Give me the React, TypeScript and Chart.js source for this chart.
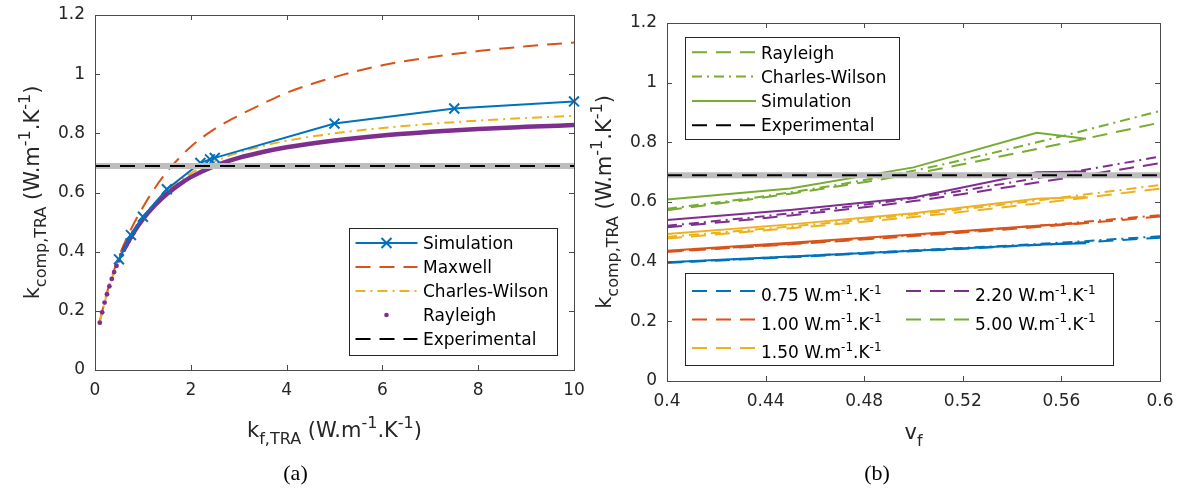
import React, { useEffect, useRef } from 'react';
import { Chart, registerables } from 'chart.js';
Chart.register(...registerables);

const BLUE = '#0072BD';
const ORANGE = '#D95319';
const YELLOW = '#EDB120';
const PURPLE = '#7E2F8E';
const GREEN = '#77AC30';
const GRAY = '#BEBEBE';
const BLACK = '#000000';
const TEXT = '#262626';
const AXIS = '#4a4a4a';
const SANS = '"DejaVu Sans", "Liberation Sans", sans-serif';
const SERIF = '"Liberation Serif", "DejaVu Serif", serif';

const DASH = [15, 9];
const DASHDOT = [10, 5, 2, 5];
const EXPDASH = [15, 10];

// ---------- (a) data: k_comp vs k_f ----------
const xTicksA = [0, 2, 4, 6, 8, 10];
const yTicks = [0, 0.2, 0.4, 0.6, 0.8, 1, 1.2];
const kfSim = [0.5, 0.75, 1.0, 1.5, 2.2, 2.4, 2.5, 5, 7.5, 10];
const kSim = [0.374, 0.456, 0.518, 0.611, 0.7, 0.712, 0.717, 0.833, 0.884, 0.908];
const kfModel = [0.1, 0.25, 0.5, 0.75, 1, 1.25, 1.5, 1.75, 2, 2.5, 3, 3.5, 4, 5, 6, 7, 8, 9, 10];
const kMaxwell = [0.165, 0.262, 0.383, 0.475, 0.55, 0.615, 0.67, 0.715, 0.755, 0.815, 0.86, 0.9, 0.937, 0.99, 1.03, 1.057, 1.078, 1.094, 1.107];
const kCharlesWilson = [0.162, 0.257, 0.372, 0.455, 0.517, 0.566, 0.605, 0.638, 0.665, 0.705, 0.735, 0.757, 0.775, 0.8, 0.818, 0.832, 0.843, 0.852, 0.859];
const kfRayleighDots = [0.1, 0.15, 0.2, 0.25, 0.3, 0.35, 0.4, 0.45, 0.5, 0.55, 0.6, 0.65, 0.7, 0.75, 0.8];
const kRayleighDots = [0.16, 0.195, 0.228, 0.256, 0.283, 0.308, 0.331, 0.352, 0.371, 0.389, 0.406, 0.421, 0.436, 0.45, 0.463];
const kfRayleighLine = [0.6, 0.8, 1, 1.25, 1.5, 1.75, 2, 2.5, 3, 3.5, 4, 5, 6, 7, 8, 9, 10];
const kRayleighLine = [0.406, 0.463, 0.51, 0.557, 0.595, 0.626, 0.652, 0.69, 0.717, 0.737, 0.753, 0.776, 0.793, 0.805, 0.815, 0.822, 0.828];
const kExperimental = 0.69;
const expRangeA = [0, 10];
const legendLabelsA = ['Simulation', 'Maxwell', 'Charles-Wilson', 'Rayleigh', 'Experimental'];

// ---------- (b) data: k_comp vs v_f ----------
const xTicksB = [0.4, 0.44, 0.48, 0.52, 0.56, 0.6];
const vfModel = [0.4, 0.45, 0.5, 0.55, 0.6];
const vfSim = [0.4, 0.45, 0.5, 0.55, 0.57];
const ray075 = [0.396, 0.415, 0.435, 0.456, 0.48];
const cw075 = [0.397, 0.417, 0.438, 0.459, 0.485];
const sim075 = [0.398, 0.417, 0.437, 0.457, 0.462];
const ray100 = [0.433, 0.458, 0.486, 0.516, 0.551];
const cw100 = [0.434, 0.46, 0.489, 0.52, 0.556];
const sim100 = [0.437, 0.463, 0.491, 0.52, 0.53];
const ray150 = [0.478, 0.512, 0.55, 0.595, 0.645];
const cw150 = [0.483, 0.518, 0.558, 0.605, 0.657];
const sim150 = [0.493, 0.525, 0.562, 0.611, 0.617];
const ray220 = [0.515, 0.555, 0.603, 0.665, 0.73];
const cw220 = [0.52, 0.562, 0.613, 0.68, 0.752];
const sim220 = [0.54, 0.573, 0.615, 0.7, 0.702];
const ray500 = [0.572, 0.628, 0.695, 0.778, 0.866];
const cw500 = [0.577, 0.632, 0.705, 0.8, 0.905];
const sim500 = [0.608, 0.645, 0.716, 0.832, 0.812];
const expRangeB = [0.4, 0.6];
const kfLabels = ['0.75', '1.00', '1.50', '2.20', '5.00'];
const kfColors = [BLUE, ORANGE, YELLOW, PURPLE, GREEN];
const legendLabelsB = ['Rayleigh', 'Charles-Wilson', 'Simulation', 'Experimental'];

type Seg = { t: string; s?: 'sub' | 'sup' };
const yTitleSegs: Seg[] = [{ t: 'k' }, { t: 'comp,TRA', s: 'sub' }, { t: ' (W.m' }, { t: '-1', s: 'sup' }, { t: '.K' }, { t: '-1', s: 'sup' }, { t: ')' }];
const xTitleASegs: Seg[] = [{ t: 'k' }, { t: 'f,TRA', s: 'sub' }, { t: ' (W.m' }, { t: '-1', s: 'sup' }, { t: '.K' }, { t: '-1', s: 'sup' }, { t: ')' }];
const xTitleBSegs: Seg[] = [{ t: 'v' }, { t: 'f', s: 'sub' }];
const unitSegs = (v: string): Seg[] => [{ t: v + ' W.m' }, { t: '-1', s: 'sup' }, { t: '.K' }, { t: '-1', s: 'sup' }];

const pts = (xs: number[], ys: number[]) => xs.map((x, i) => ({ x, y: ys[i] }));
const fmt = (v: number) => String(Math.round(v * 100) / 100);

function drawRich(ctx: CanvasRenderingContext2D, segs: Seg[], x: number, y: number, size: number, small: number, align: 'left' | 'center') {
  const widths = segs.map((s) => {
    ctx.font = `${s.s ? small : size}px ${SANS}`;
    return ctx.measureText(s.t).width;
  });
  const total = widths.reduce((a, b) => a + b, 0);
  let cx = align === 'center' ? x - total / 2 : x;
  ctx.textAlign = 'left';
  ctx.textBaseline = 'alphabetic';
  segs.forEach((s, i) => {
    ctx.font = `${s.s ? small : size}px ${SANS}`;
    const dy = s.s === 'sub' ? size * 0.33 : s.s === 'sup' ? -size * 0.42 : 0;
    ctx.fillText(s.t, cx, y + dy);
    cx += widths[i];
  });
}

function drawSample(ctx: CanvasRenderingContext2D, x0: number, x1: number, y: number, color: string, dash: number[] | null, marker?: 'x' | 'dot') {
  ctx.save();
  if (dash) {
    ctx.strokeStyle = color;
    ctx.lineWidth = 2;
    ctx.setLineDash(dash);
    ctx.beginPath();
    ctx.moveTo(x0, y);
    ctx.lineTo(x1, y);
    ctx.stroke();
  }
  ctx.setLineDash([]);
  const cx = (x0 + x1) / 2;
  if (marker === 'x') {
    ctx.strokeStyle = color;
    ctx.lineWidth = 2;
    ctx.beginPath();
    ctx.moveTo(cx - 5, y - 5);
    ctx.lineTo(cx + 5, y + 5);
    ctx.moveTo(cx - 5, y + 5);
    ctx.lineTo(cx + 5, y - 5);
    ctx.stroke();
  } else if (marker === 'dot') {
    ctx.fillStyle = color;
    ctx.beginPath();
    ctx.arc(cx, y, 2.3, 0, Math.PI * 2);
    ctx.fill();
  }
  ctx.restore();
}

function drawBox(ctx: CanvasRenderingContext2D, x0: number, y0: number, x1: number, y1: number) {
  ctx.save();
  ctx.fillStyle = '#ffffff';
  ctx.fillRect(x0, y0, x1 - x0, y1 - y0);
  ctx.strokeStyle = TEXT;
  ctx.lineWidth = 1;
  ctx.setLineDash([]);
  ctx.strokeRect(x0 + 0.5, y0 + 0.5, x1 - x0, y1 - y0);
  ctx.restore();
}

function drawFrame(chart: any, xTicks: number[]) {
  const ctx: CanvasRenderingContext2D = chart.ctx;
  const { left, right, top, bottom } = chart.chartArea;
  const xs = chart.scales.x;
  const ys = chart.scales.y;
  ctx.save();
  ctx.strokeStyle = AXIS;
  ctx.lineWidth = 1;
  ctx.setLineDash([]);
  ctx.strokeRect(left + 0.5, top + 0.5, right - left, bottom - top);
  ctx.beginPath();
  xTicks.forEach((v) => {
    const p = Math.round(xs.getPixelForValue(v)) + 0.5;
    ctx.moveTo(p, bottom);
    ctx.lineTo(p, bottom - 5);
    ctx.moveTo(p, top);
    ctx.lineTo(p, top + 5);
  });
  yTicks.forEach((v) => {
    const p = Math.round(ys.getPixelForValue(v)) + 0.5;
    ctx.moveTo(left, p);
    ctx.lineTo(left + 5, p);
    ctx.moveTo(right, p);
    ctx.lineTo(right - 5, p);
  });
  ctx.stroke();
  ctx.restore();
}

function drawYTitle(ctx: CanvasRenderingContext2D, x: number, y: number) {
  ctx.save();
  ctx.fillStyle = TEXT;
  ctx.translate(x, y);
  ctx.rotate(-Math.PI / 2);
  drawRich(ctx, yTitleSegs, 0, 0, 21, 16, 'center');
  ctx.restore();
}

function drawCaption(ctx: CanvasRenderingContext2D, text: string, x: number, y: number) {
  ctx.save();
  ctx.fillStyle = BLACK;
  ctx.font = `22px ${SERIF}`;
  ctx.textAlign = 'center';
  ctx.textBaseline = 'alphabetic';
  ctx.fillText(text, x, y);
  ctx.restore();
}

const decoA = {
  id: 'decoA',
  afterDraw(chart: any) {
    const ctx: CanvasRenderingContext2D = chart.ctx;
    const { left, right, top, bottom } = chart.chartArea;
    drawFrame(chart, xTicksA);
    const cx = (left + right) / 2;
    ctx.save();
    ctx.fillStyle = TEXT;
    drawRich(ctx, xTitleASegs, cx, bottom + 67, 21, 16, 'center');
    ctx.restore();
    drawYTitle(ctx, left - 56, (top + bottom) / 2);
    drawCaption(ctx, '(a)', 295.5, 480);
    // legend
    const bx0 = 349, by0 = 228, bx1 = 557, by1 = 355;
    drawBox(ctx, bx0, by0, bx1, by1);
    const styles: { c: string; d: number[] | null; m?: 'x' | 'dot' }[] = [
      { c: BLUE, d: [], m: 'x' },
      { c: ORANGE, d: DASH },
      { c: YELLOW, d: DASHDOT },
      { c: PURPLE, d: null, m: 'dot' },
      { c: BLACK, d: DASH },
    ];
    legendLabelsA.forEach((lab, i) => {
      const y = by0 + 15 + i * 24;
      drawSample(ctx, bx0 + 6.5, bx0 + 68.5, y, styles[i].c, styles[i].d, styles[i].m);
      ctx.save();
      ctx.fillStyle = BLACK;
      ctx.font = `17px ${SANS}`;
      ctx.textAlign = 'left';
      ctx.textBaseline = 'alphabetic';
      ctx.fillText(lab, bx0 + 74, y + 6.2);
      ctx.restore();
    });
  },
};

const decoB = {
  id: 'decoB',
  afterDraw(chart: any) {
    const ctx: CanvasRenderingContext2D = chart.ctx;
    const { left, right, top, bottom } = chart.chartArea;
    drawFrame(chart, xTicksB);
    const cx = (left + right) / 2;
    ctx.save();
    ctx.fillStyle = TEXT;
    drawRich(ctx, xTitleBSegs, cx, bottom + 58, 21, 16, 'center');
    ctx.restore();
    drawYTitle(ctx, left - 56, (top + bottom) / 2);
    drawCaption(ctx, '(b)', 287, 480);
    // top legend
    const tx0 = 95, ty0 = 37, tx1 = 309, ty1 = 139;
    drawBox(ctx, tx0, ty0, tx1, ty1);
    const styles: { c: string; d: number[] }[] = [
      { c: GREEN, d: DASH },
      { c: GREEN, d: DASHDOT },
      { c: GREEN, d: [] },
      { c: BLACK, d: DASH },
    ];
    legendLabelsB.forEach((lab, i) => {
      const y = ty0 + 15.3 + i * 24.3;
      drawSample(ctx, tx0 + 7, tx0 + 71, y, styles[i].c, styles[i].d);
      ctx.save();
      ctx.fillStyle = BLACK;
      ctx.font = `17px ${SANS}`;
      ctx.textAlign = 'left';
      ctx.textBaseline = 'alphabetic';
      ctx.fillText(lab, tx0 + 76, y + 6.2);
      ctx.restore();
    });
    // bottom legend
    const lx0 = 95, ly0 = 273, lx1 = 523, ly1 = 365;
    drawBox(ctx, lx0, ly0, lx1, ly1);
    kfLabels.forEach((lab, i) => {
      const col = i < 3 ? 0 : 1;
      const row = i < 3 ? i : i - 3;
      const y = ly0 + 18 + row * 28.5;
      const x0 = lx0 + 7 + col * 214;
      drawSample(ctx, x0, x0 + 64, y, kfColors[i], DASH);
      ctx.save();
      ctx.fillStyle = BLACK;
      drawRich(ctx, unitSegs(lab), x0 + 69, y + 10, 17, 12, 'left');
      ctx.restore();
    });
  },
};

function lineDs(data: any[], color: string, dash: number[], width = 2, extra: any = {}) {
  return {
    data,
    borderColor: color,
    backgroundColor: color,
    borderDash: dash,
    borderWidth: width,
    pointRadius: 0,
    fill: false,
    ...extra,
  };
}

function scales(xMin: number, xMax: number, xTicks: number[], yWidth: number, xHeight: number) {
  const tickFont = { family: SANS, size: 17 };
  return {
    x: {
      type: 'linear',
      min: xMin,
      max: xMax,
      afterBuildTicks: (s: any) => {
        s.ticks = xTicks.map((v) => ({ value: v }));
      },
      afterFit: (s: any) => {
        s.height = xHeight;
        s.paddingLeft = 0;
        s.paddingRight = 0;
      },
      grid: { display: false, drawTicks: false },
      border: { display: false },
      ticks: { padding: 10, color: TEXT, font: tickFont, maxRotation: 0, autoSkip: false, callback: (v: number) => fmt(v) },
    },
    y: {
      type: 'linear',
      min: 0,
      max: 1.2,
      afterBuildTicks: (s: any) => {
        s.ticks = yTicks.map((v) => ({ value: v }));
      },
      afterFit: (s: any) => {
        s.width = yWidth;
        s.paddingTop = 0;
        s.paddingBottom = 0;
      },
      grid: { display: false, drawTicks: false },
      border: { display: false },
      ticks: { padding: 10, color: TEXT, font: tickFont, autoSkip: false, callback: (v: number) => fmt(v) },
    },
  };
}

export default function App() {
  const refA = useRef<HTMLCanvasElement | null>(null);
  const refB = useRef<HTMLCanvasElement | null>(null);

  useEffect(() => {
    const expA = pts(expRangeA, [kExperimental, kExperimental]);
    const chartA = new Chart(refA.current as HTMLCanvasElement, {
      type: 'line',
      data: {
        datasets: [
          lineDs(expA, BLACK, EXPDASH, 2),
          lineDs(expA, GRAY, [], 6),
          lineDs(pts(kfSim, kSim), BLUE, [], 2, {
            pointRadius: 7,
            pointStyle: 'crossRot',
            pointBorderWidth: 2,
            pointBorderColor: BLUE,
            clip: false,
          }),
          lineDs(pts(kfRayleighDots, kRayleighDots), PURPLE, [], 0, {
            showLine: false,
            pointRadius: 2.4,
            pointBorderWidth: 0,
            pointBackgroundColor: PURPLE,
          }),
          lineDs(pts(kfRayleighLine, kRayleighLine), PURPLE, [], 4.5, { cubicInterpolationMode: 'monotone' }),
          lineDs(pts(kfModel, kCharlesWilson), YELLOW, DASHDOT, 2, { cubicInterpolationMode: 'monotone' }),
          lineDs(pts(kfModel, kMaxwell), ORANGE, DASH, 2, { cubicInterpolationMode: 'monotone' }),
        ],
      },
      options: {
        responsive: false,
        animation: false,
        events: [],
        layout: { padding: { left: 0, top: 15, right: 16, bottom: 0 } },
        plugins: { legend: { display: false }, tooltip: { enabled: false } },
        scales: scales(0, 10, xTicksA, 95, 122) as any,
      },
      plugins: [decoA],
    } as any);

    const expB = pts(expRangeB, [kExperimental, kExperimental]);
    const groups = [
      [ray075, cw075, sim075],
      [ray100, cw100, sim100],
      [ray150, cw150, sim150],
      [ray220, cw220, sim220],
      [ray500, cw500, sim500],
    ];
    const dsB: any[] = [lineDs(expB, BLACK, EXPDASH, 2), lineDs(expB, GRAY, [], 6)];
    for (let g = groups.length - 1; g >= 0; g--) {
      const [r, c, s] = groups[g];
      const col = kfColors[g];
      dsB.push(lineDs(pts(vfSim, s), col, [], 2));
      dsB.push(lineDs(pts(vfModel, c), col, DASHDOT, 2, { cubicInterpolationMode: 'monotone' }));
      dsB.push(lineDs(pts(vfModel, r), col, DASH, 2, { cubicInterpolationMode: 'monotone' }));
    }
    const chartB = new Chart(refB.current as HTMLCanvasElement, {
      type: 'line',
      data: { datasets: dsB },
      options: {
        responsive: false,
        animation: false,
        events: [],
        layout: { padding: { left: 0, top: 23, right: 21, bottom: 0 } },
        plugins: { legend: { display: false }, tooltip: { enabled: false } },
        scales: scales(0.4, 0.6, xTicksB, 77, 111) as any,
      },
      plugins: [decoB],
    } as any);

    return () => {
      chartA.destroy();
      chartB.destroy();
    };
  }, []);

  return (
    <div style={{ position: 'fixed', left: 0, top: 0, width: 1181, height: 492, background: '#ffffff' }}>
      <canvas ref={refA} width={590} height={492} style={{ position: 'absolute', left: 0, top: 0, width: 590, height: 492 }} />
      <canvas ref={refB} width={591} height={492} style={{ position: 'absolute', left: 590, top: 0, width: 591, height: 492 }} />
    </div>
  );
}
